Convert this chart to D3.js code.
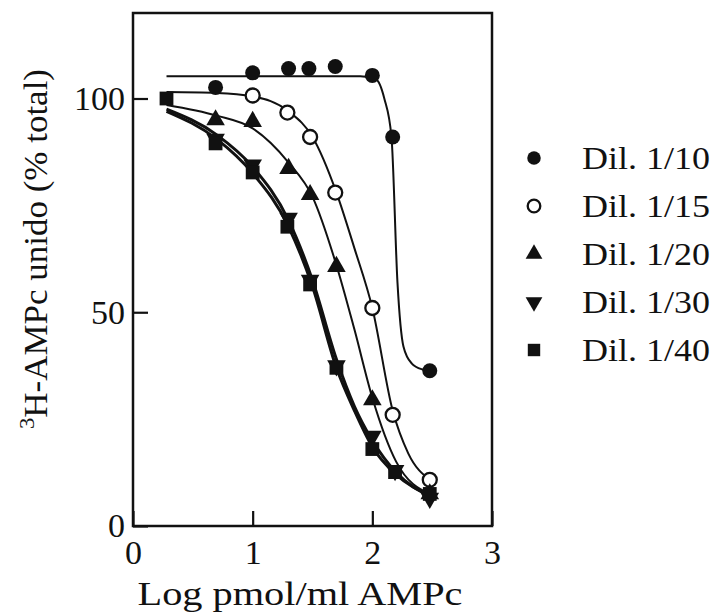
<!DOCTYPE html>
<html>
<head>
<meta charset="utf-8">
<script src="https://cdn.jsdelivr.net/npm/d3@7"></script>
<style>
  body { margin: 0; background: #fff; }
  text { font-family: "Liberation Serif", "Times New Roman", serif; fill: #111; }
</style>
</head>
<body>
<script>
// series labels, as in the legend
var dilutions = ["Dil. 1/10", "Dil. 1/15", "Dil. 1/20", "Dil. 1/30", "Dil. 1/40"];
var shapes = ["dot", "ring", "up", "down", "square"];

// measured points (log pmol/ml, % total)
var x10 = [0.69, 1.0, 1.30, 1.47, 1.69, 2.0, 2.17, 2.48];
var y10 = [102.6, 106, 107, 107, 107.5, 105.4, 91, 36.3];
var x15 = [1.0, 1.29, 1.48, 1.69, 2.0, 2.17, 2.48];
var y15 = [100.7, 96.7, 91, 78, 51, 26, 10.8];
var x20 = [0.69, 1.0, 1.30, 1.48, 1.70, 2.0, 2.48];
var y20 = [95, 94.6, 83.6, 77.5, 60.7, 29.5, 7.5];
var x30 = [0.69, 1.0, 1.30, 1.48, 1.70, 2.0, 2.19, 2.48];
var y30 = [90.5, 84.5, 72, 57.5, 37.5, 21, 13, 6.5];
var x40 = [0.28, 0.69, 1.0, 1.29, 1.48, 1.70, 2.0, 2.19, 2.48];
var y40 = [100, 89.5, 82.7, 70, 56.5, 37, 18, 12.6, 7.5];

// fitted curves
var fx10 = [0.28, 1.9, 2.03, 2.1, 2.16, 2.21, 2.26, 2.33, 2.42, 2.48];
var fy10 = [105.2, 105.2, 104.5, 100, 91, 57, 42, 38, 36.6, 36.3];
var fx15 = [0.28, 0.7, 1.0, 1.3, 1.5, 1.7, 1.85, 2.0, 2.17, 2.3, 2.48];
var fy15 = [101.5, 101.3, 100.5, 97, 91, 78, 65, 51, 27, 17, 10.8];
var fx20 = [0.28, 0.7, 1.0, 1.3, 1.5, 1.7, 1.85, 2.0, 2.2, 2.48];
var fy20 = [98.5, 96, 93, 85, 77, 61, 46, 30, 15, 7.5];
var fx30 = [0.28, 0.7, 1.0, 1.3, 1.5, 1.7, 1.85, 2.0, 2.2, 2.48];
var fy30 = [97.5, 91.5, 84, 71.5, 57.5, 39, 28, 20, 12.5, 7];
var fx40 = [0.28, 0.7, 1.0, 1.3, 1.5, 1.7, 1.85, 2.0, 2.2, 2.48];
var fy40 = [97, 90.5, 82.5, 70, 56, 37, 27, 18.5, 12, 7.2];

var xTicks = [0, 1, 2, 3];
var yTicks = [0, 50, 100];

var W = 718, H = 613;
var svg = d3.select("body").append("svg").attr("width", W).attr("height", H);

var x = d3.scaleLinear().domain([0, 3]).range([133, 492]);
var y = d3.scaleLinear().domain([0, 120]).range([526, 13]);

function zip(xs, ys) { return xs.map(function(v, i) { return [v, ys[i]]; }); }

var pts = [zip(x10, y10), zip(x15, y15), zip(x20, y20), zip(x30, y30), zip(x40, y40)];
var fits = [zip(fx10, fy10), zip(fx15, fy15), zip(fx20, fy20), zip(fx30, fy30), zip(fx40, fy40)];
var widths = [2, 2, 2, 3, 3];

// frame
svg.append("rect")
    .attr("x", x(0)).attr("y", y(120))
    .attr("width", x(3) - x(0)).attr("height", y(0) - y(120))
    .attr("fill", "none").attr("stroke", "#111").attr("stroke-width", 2.5);

// axes, ticks pointing inward
var gx = svg.append("g").attr("transform", "translate(0," + y(0) + ")")
    .call(d3.axisBottom(x).tickValues(xTicks).tickFormat(d3.format("d"))
      .tickSizeInner(-15).tickSizeOuter(0).tickPadding(14));
var gy = svg.append("g").attr("transform", "translate(" + x(0) + ",0)")
    .call(d3.axisLeft(y).tickValues(yTicks).tickSizeInner(-15).tickSizeOuter(0).tickPadding(8));
[gx, gy].forEach(function(g) {
  g.select(".domain").remove();
  g.selectAll("line").attr("stroke", "#111").attr("stroke-width", 2.2);
  g.selectAll("text").attr("font-size", 34);
});

// curves
var line = d3.line().x(function(d) { return x(d[0]); }).y(function(d) { return y(d[1]); })
    .curve(d3.curveMonotoneX);
svg.append("g").selectAll("path").data(fits).join("path")
    .attr("d", line).attr("fill", "none").attr("stroke", "#111")
    .attr("stroke-width", function(d, i) { return widths[i]; });

// marker drawing
function marker(g, kind, s) {
  if (kind === "dot") {
    g.append("circle").attr("r", 7.5 * s).attr("fill", "#111");
  } else if (kind === "ring") {
    g.append("circle").attr("r", 7 * s).attr("fill", "#fff").attr("stroke", "#111").attr("stroke-width", 2.3);
  } else if (kind === "square") {
    g.append("path").attr("d", d3.symbol(d3.symbolSquare, 190 * s * s)).attr("fill", "#111");
  } else {
    g.append("path").attr("d", d3.symbol(d3.symbolTriangle, 150 * s * s))
      .attr("transform", kind === "down" ? "rotate(180)" : null).attr("fill", "#111");
  }
}

pts.forEach(function(series, i) {
  var g = svg.append("g");
  series.forEach(function(p) {
    var m = g.append("g").attr("transform", "translate(" + x(p[0]) + "," + y(p[1]) + ")");
    marker(m, shapes[i], 1);
  });
});

// legend
var legend = svg.append("g");
dilutions.forEach(function(name, i) {
  var row = legend.append("g").attr("transform", "translate(0," + (158 + i * 48) + ")");
  marker(row.append("g").attr("transform", "translate(534,0)"), shapes[i], 0.9);
  row.append("text").attr("x", 582).attr("y", 11).attr("font-size", 32)
    .attr("textLength", 128).attr("lengthAdjust", "spacingAndGlyphs").text(name);
});

// axis titles
svg.append("text").attr("x", 300).attr("y", 605).attr("text-anchor", "middle")
  .attr("font-size", 33).attr("textLength", 325).attr("lengthAdjust", "spacingAndGlyphs")
  .text("Log pmol/ml AMPc");

var yt = svg.append("text").attr("transform", "translate(47,249) rotate(-90)")
  .attr("text-anchor", "middle").attr("font-size", 34)
  .attr("textLength", 360).attr("lengthAdjust", "spacingAndGlyphs");
yt.append("tspan").attr("font-size", 22).attr("dy", -13).text("3");
yt.append("tspan").attr("dy", 13).text("H-AMPc unido (% total)");
</script>
</body>
</html>
